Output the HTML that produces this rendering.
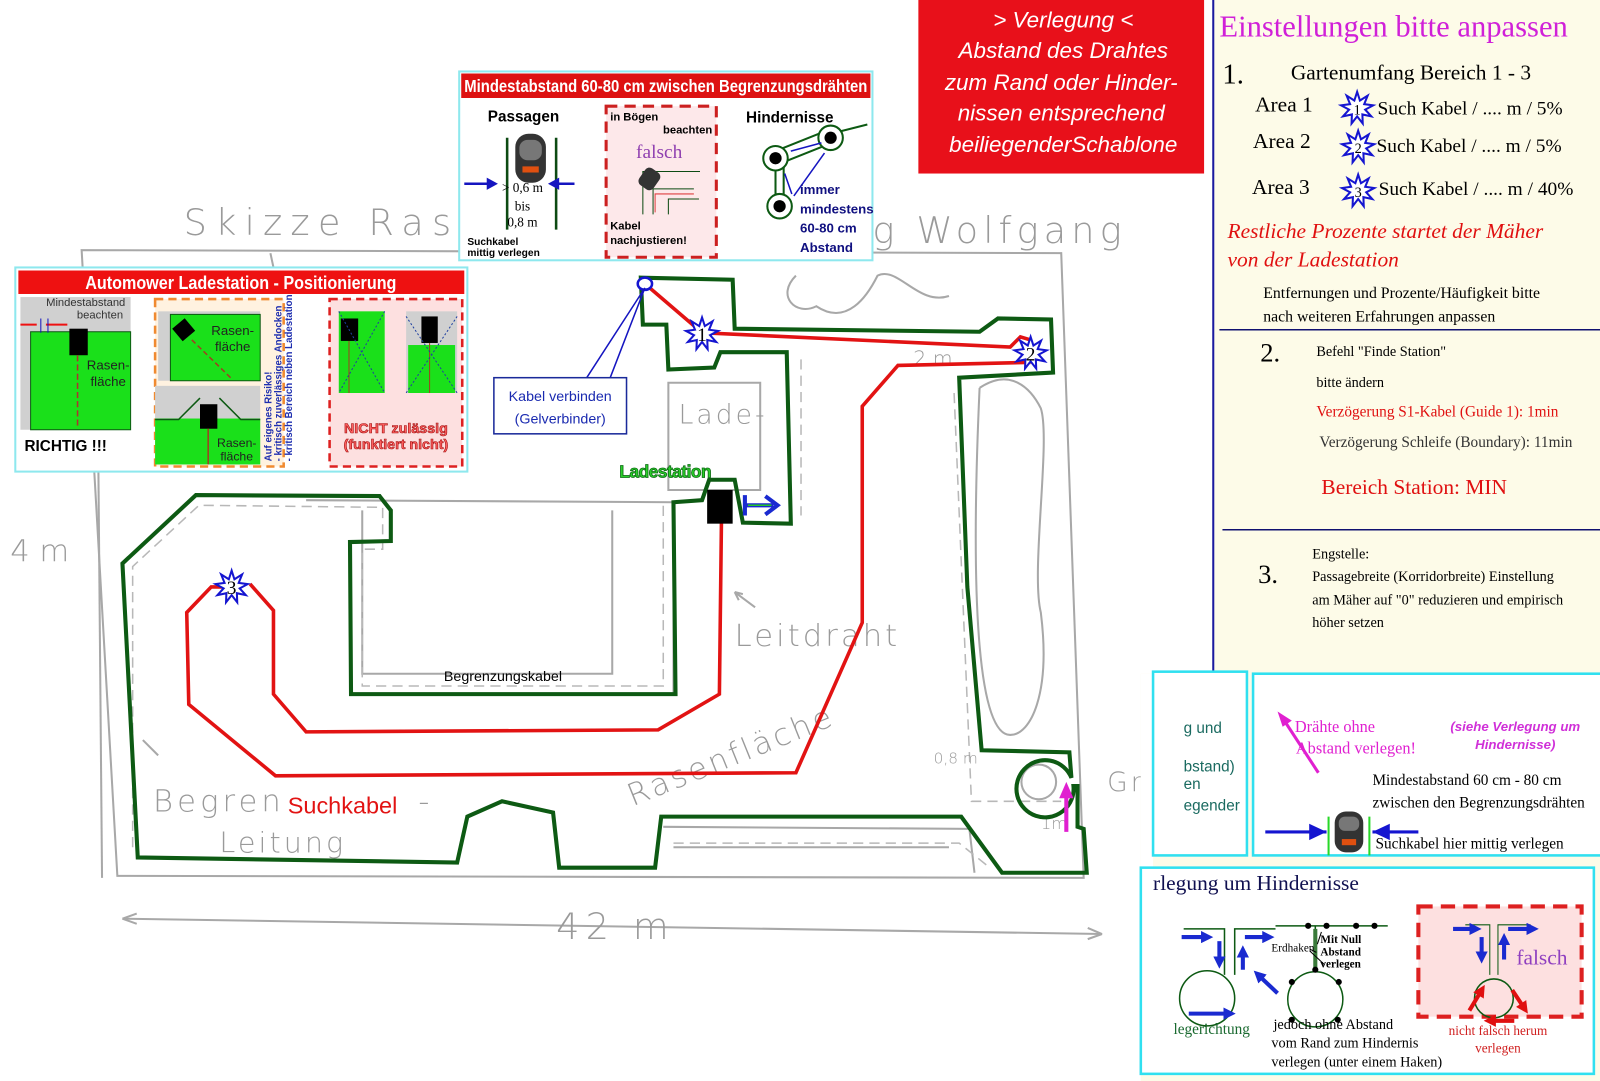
<!DOCTYPE html>
<html><head><meta charset="utf-8"><style>
html,body{margin:0;padding:0;background:#fff}
svg{display:block}
.sk{font-family:"DejaVu Sans","Liberation Sans",sans-serif;fill:#9a9a9a;font-weight:200}
.ser{font-family:"Liberation Serif",serif}
.san{font-family:"Liberation Sans",sans-serif}
.nar{font-family:"Liberation Sans Narrow","Liberation Sans",sans-serif}
</style></head><body>
<svg width="1600" height="1081" viewBox="0 0 1568 1059" preserveAspectRatio="none" xmlns="http://www.w3.org/2000/svg">
<defs>
<polygon id="st" points="0,-16 2.74,-7.52 10.28,-12.26 6.93,-4 15.76,-2.78 7.88,1.39 13.86,8 5.14,6.13 5.47,15.04 0,8 -5.47,15.04 -5.14,6.13 -13.86,8 -7.88,1.39 -15.76,-2.78 -6.93,-4 -10.28,-12.26 -2.74,-7.52" fill="#fff" stroke="#1515d0" stroke-width="2"/>
<g id="mower"><rect x="-15" y="-24" width="30" height="48" rx="13" fill="#333"/><rect x="-11" y="-18" width="22" height="20" rx="8" fill="#777"/><rect x="-8" y="8" width="16" height="6" fill="#e05010"/></g>
<marker id="ab" markerWidth="3" markerHeight="3" refX="1.5" refY="1.5" orient="auto"><path d="M0,0 L3,1.5 L0,3Z" fill="#1a2ad0"/></marker>
<marker id="ar" markerWidth="3" markerHeight="3" refX="1.5" refY="1.5" orient="auto"><path d="M0,0 L3,1.5 L0,3Z" fill="#e01010"/></marker>
</defs>

<!-- sketch background -->
<g stroke="#a8a8a8" stroke-width="2" fill="none">
<path d="M80,245 L1040,248 L1062,860 L115,858 Z"/>
<path d="M95,300 L100,860"/>
<path d="M265,248 L268,262"/>
<path d="M300,490 L660,492 L660,680 L345,680"/>
<path d="M355,500 L355,660 L600,660 L600,500"/>
<path d="M655,375 L745,375 L745,480 L655,480 Z"/>
<path d="M650,810 L950,812 L955,855"/>
<path d="M660,830 L930,830"/>
<path d="M120,900 L1080,915"/>
<path d="M960,380 C990,360 1010,380 1020,400 C1030,430 1010,560 1020,600 C1030,680 1010,720 990,720 C960,720 950,600 960,380"/>
<circle cx="1018" cy="766" r="17"/>
<path d="M780,270 C760,290 780,310 800,300 C830,320 850,290 860,270 C880,260 900,300 930,290"/>
<path d="M120,900 l14,-5 M1080,915 l-14,-6 M1080,915 l-14,5 M120,900 l14,5"/>
<path d="M740,595 l-20,-15 M720,580 l4,8 M720,580 l8,2"/>
<path d="M155,740 l-15,-15"/>
</g>
<g stroke="#b8b8b8" stroke-width="1.5" fill="none" stroke-dasharray="10,6">
<path d="M130,830 L130,555 L195,495 L375,497 L375,538 L355,538 L355,672 L650,672 L650,490"/>
<path d="M935,385 L952,785 L1040,785"/>
<path d="M660,826 L940,826 L970,850"/>
<path d="M785,352 L785,505"/>
</g>
<text class="sk" x="180" y="230" font-size="36" letter-spacing="8">Skizze Ras</text>
<text class="sk" x="855" y="238" font-size="36" letter-spacing="5">g Wolfgang</text>
<text class="sk" x="545" y="920" font-size="36" letter-spacing="6">42 m</text>
<text class="sk" x="10" y="550" font-size="30">4 m</text>
<text class="sk" x="720" y="633" font-size="30" letter-spacing="3">Leitdraht</text>
<text class="sk" x="665" y="415" font-size="26" letter-spacing="3">Lade-</text>
<text class="sk" x="150" y="795" font-size="30" letter-spacing="4">Begren</text>
<text class="sk" x="215" y="835" font-size="28" letter-spacing="3">Leitung</text>
<text class="sk" x="410" y="795" font-size="30">-</text>
<text class="sk" x="620" y="790" font-size="30" letter-spacing="3" transform="rotate(-22 620 790)">Rasenfläche</text>
<text class="sk" x="1085" y="775" font-size="26" letter-spacing="3">Grill</text>
<text class="sk" x="915" y="748" font-size="15">0,8 m</text>
<text class="sk" x="895" y="358" font-size="20">2 m</text>
<text class="sk" x="1020" y="812" font-size="16">1m</text>

<!-- boundary -->
<path d="M628,272 L718,274 L720,322 L960,325 L978,312 L1030,313 L1032,365 L940,370 L948,575 L962,735 L1048,737 L1050,762 A28,28 0 1 0 1052,770 L1056,770 L1056,810 L1062,812 L1065,855 L982,855 L942,800 L648,800 L642,850 L548,850 L542,796 L492,785 L458,800 L448,845 L135,840 L120,552 L192,485 L372,486 L383,500 L383,530 L343,531 L344,680 L662,680 L660,492 L688,490 L695,470 L720,470 L728,512 L775,513 L771,345 L706,345 L700,360 L655,362 L653,318 L630,318 Z" fill="none" stroke="#0d5a13" stroke-width="4" stroke-linejoin="miter"/>
<!-- search cable -->
<g fill="none" stroke="#e21313" stroke-width="3.5">
<path d="M632,278 L688,326 L990,340 L1000,330 L1010,333"/>
<path d="M1010,355 L880,358 L845,398 L845,610 L780,757 L270,760 L185,690 L183,600 L207,575 L227,575"/>
<path d="M707,512 L705,680 L645,715 L300,717 L268,680 L268,598 L245,572"/>
</g>
<rect x="693" y="480" width="25" height="33" fill="#000"/>
<path d="M730,485 L730,505 M730,495 L758,495 M750,486 L762,495 L750,504" stroke="#1a2ad0" stroke-width="4" fill="none"/>
<path d="M733,495 L756,495" stroke="#28c828" stroke-width="1.5"/>
<use href="#st" x="688" y="327"/>
<use href="#st" x="1010" y="346"/>
<use href="#st" x="227" y="575"/>
<text class="ser" x="688" y="334" font-size="19" text-anchor="middle">1</text>
<text class="ser" x="1010" y="353" font-size="19" text-anchor="middle">2</text>
<text class="ser" x="227" y="582" font-size="19" text-anchor="middle">3</text>
<path d="M1045,815 L1045,772" stroke="#e020d0" stroke-width="4"/>
<path d="M1038,782 L1045,766 L1052,782 Z" fill="#e020d0"/>
<ellipse cx="632" cy="278" rx="7" ry="6" fill="#fff" stroke="#1515d0" stroke-width="2.5"/>
<path d="M632,282 L575,370 M632,282 L598,370" stroke="#1515c0" stroke-width="1.5"/>
<rect x="484" y="370" width="130" height="55" fill="#fff" stroke="#1a2a9a" stroke-width="1.5"/>
<text class="san" x="549" y="393" font-size="14" fill="#1a2ab0" text-anchor="middle">Kabel verbinden</text>
<text class="san" x="549" y="415" font-size="14" fill="#1a2ab0" text-anchor="middle">(Gelverbinder)</text>
<text class="san" x="607" y="468" font-size="17" font-weight="bold" fill="#2ad02a" stroke="#0d6a13" stroke-width="0.8" letter-spacing="-0.5">Ladestation</text>
<text class="nar" x="435" y="667" font-size="14">Begrenzungskabel</text>
<text class="nar" x="282" y="797" font-size="23" fill="#e21313">Suchkabel</text>

<!-- left panel -->
<rect x="15" y="262" width="443" height="200" fill="#fff" stroke="#8ee8ee" stroke-width="2"/>
<rect x="18" y="265" width="437" height="23" fill="#ee1111"/>
<text class="nar" x="236" y="283" font-size="18" font-weight="bold" fill="#fff" text-anchor="middle" textLength="305" lengthAdjust="spacingAndGlyphs">Automower Ladestation - Positionierung</text>
<rect x="20" y="291" width="108" height="130" fill="#d0d0d0"/>
<rect x="30" y="325" width="98" height="96" fill="#1ae01a" stroke="#0d5a13" stroke-width="1"/>
<rect x="68" y="322" width="18" height="26" fill="#000"/>
<path d="M76,348 L76,420" stroke="#b03030" stroke-dasharray="6,3" stroke-width="1.5"/>
<text class="san" x="84" y="300" font-size="11" fill="#333" text-anchor="middle">Mindestabstand</text>
<text class="san" x="98" y="312" font-size="11" fill="#333" text-anchor="middle">beachten</text>
<path d="M20,318 L36,318 M45,318 L66,318" stroke="#ee1111" stroke-width="2"/>
<path d="M40,312 L40,326 M47,312 L47,326" stroke="#1515c0"/>
<text class="san" x="106" y="362" font-size="13" fill="#222" text-anchor="middle">Rasen-</text>
<text class="san" x="106" y="378" font-size="13" fill="#222" text-anchor="middle">fläche</text>
<text class="san" x="24" y="442" font-size="15" font-weight="bold">RICHTIG !!!</text>
<rect x="152" y="293" width="126" height="164" fill="#fff2e0" stroke="#f08a30" stroke-width="2.5" stroke-dasharray="8,5"/>
<rect x="155" y="305" width="100" height="68" fill="#d0d0d0"/>
<rect x="167" y="308" width="88" height="65" fill="#1ae01a" stroke="#0d5a13"/>
<rect x="172" y="315" width="16" height="16" fill="#000" transform="rotate(-40 180 323)"/>
<path d="M188,333 L228,372" stroke="#a04020" stroke-width="1.5" stroke-dasharray="5,3"/>
<text class="san" x="228" y="328" font-size="13" fill="#222" text-anchor="middle">Rasen-</text>
<text class="san" x="228" y="344" font-size="13" fill="#222" text-anchor="middle">fläche</text>
<rect x="152" y="378" width="103" height="77" fill="#d0d0d0"/>
<rect x="152" y="410" width="103" height="45" fill="#1ae01a"/>
<path d="M152,411 L175,411 L196,390 M215,390 L236,411 L255,411" stroke="#0d5a13" stroke-width="1.5" fill="none"/>
<rect x="196" y="396" width="17" height="24" fill="#000"/>
<path d="M204,420 L204,455" stroke="#a04020" stroke-width="1.5"/>
<text class="san" x="232" y="438" font-size="12" fill="#222" text-anchor="middle">Rasen-</text>
<text class="san" x="232" y="451" font-size="12" fill="#222" text-anchor="middle">fläche</text>
<g transform="translate(277,452) rotate(-90)" class="nar" font-size="9.5" font-weight="bold" fill="#2030b0">
<text x="0" y="-11">Auf eigenes Risiko!</text><text x="0" y="-1">- kritisch zuverlässiges Andocken</text><text x="0" y="9">- kritisch Bereich neben Ladestation</text></g>
<rect x="323" y="293" width="130" height="164" fill="#fde0e0" stroke="#dd2020" stroke-width="2.5" stroke-dasharray="8,5"/>
<rect x="332" y="305" width="45" height="80" fill="#1ae01a"/><rect x="334" y="312" width="17" height="22" fill="#000"/>
<path d="M342,334 L342,385" stroke="#a04020"/>
<path d="M332,305 L377,385 M377,305 L332,385" stroke="#2040a0" stroke-dasharray="2,2"/>
<rect x="398" y="305" width="50" height="80" fill="#d0d0d0"/><rect x="400" y="338" width="46" height="47" fill="#1ae01a"/>
<rect x="413" y="310" width="16" height="26" fill="#000"/><path d="M421,336 L421,385" stroke="#a04020"/>
<path d="M398,310 L448,385 M448,310 L398,385" stroke="#2040a0" stroke-dasharray="2,2"/>
<text class="san" x="388" y="424" font-size="14" font-weight="bold" fill="#ff6060" stroke="#a01010" stroke-width="0.6" text-anchor="middle">NICHT zulässig</text>
<text class="san" x="388" y="440" font-size="14" font-weight="bold" fill="#ff6060" stroke="#a01010" stroke-width="0.6" text-anchor="middle">(funktiert nicht)</text>

<!-- top center panel -->
<rect x="450" y="70" width="405" height="185" fill="#fff" stroke="#8ee8ee" stroke-width="2"/>
<rect x="452" y="72" width="401" height="24" fill="#dd1111"/>
<text class="nar" x="455" y="90" font-size="17" font-weight="bold" fill="#fff" textLength="395" lengthAdjust="spacingAndGlyphs">Mindestabstand 60-80 cm zwischen Begrenzungsdrähten</text>
<text class="san" x="513" y="119" font-size="15" font-weight="bold" text-anchor="middle">Passagen</text>
<path d="M497,135 L497,225 M545,135 L545,225" stroke="#0d4a13" stroke-width="2.5"/>
<use href="#mower" x="520" y="155"/>
<path d="M455,180 L480,180 M540,180 L563,180" stroke="#1515c0" stroke-width="2.5"/>
<path d="M477,174 L488,180 L477,186 Z M548,174 L537,180 L548,186 Z" fill="#1515c0"/>
<text class="ser" x="512" y="188" font-size="13" text-anchor="middle">&gt; 0,6 m</text>
<text class="ser" x="512" y="206" font-size="13" text-anchor="middle">bis</text>
<text class="ser" x="512" y="222" font-size="13" text-anchor="middle">0,8 m</text>
<text class="san" x="458" y="240" font-size="10" font-weight="bold">Suchkabel</text>
<text class="san" x="458" y="251" font-size="10" font-weight="bold">mittig verlegen</text>
<rect x="594" y="104" width="108" height="148" fill="#fde8ea" stroke="#cc2020" stroke-width="3" stroke-dasharray="11,7"/>
<text class="san" x="598" y="118" font-size="11" font-weight="bold">in Bögen</text>
<text class="san" x="698" y="131" font-size="11" font-weight="bold" text-anchor="end">beachten</text>
<text class="ser" x="646" y="155" font-size="19" fill="#9040b0" text-anchor="middle">falsch</text>
<path d="M630,210 L630,168 L686,168 M640,210 L640,185 L680,185 M655,210 L655,195 L685,195" stroke="#0d4a13" fill="none"/>
<path d="M642,208 L642,190 L680,190" stroke="#e04040" fill="none"/>
<rect x="628" y="165" width="17" height="20" rx="5" fill="#333" transform="rotate(35 636 175)"/>
<text class="san" x="598" y="225" font-size="11" font-weight="bold">Kabel</text>
<text class="san" x="598" y="239" font-size="11" font-weight="bold">nachjustieren!</text>
<text class="san" x="774" y="120" font-size="15" font-weight="bold" text-anchor="middle">Hindernisse</text>
<g stroke="#0d5a13" stroke-width="2" fill="none"><path d="M760,148 L810,128 M765,160 L815,140 M760,155 L760,195 M768,158 L768,195 M818,130 L850,122"/></g>
<circle cx="760" cy="155" r="12" fill="#fff" stroke="#0d5a13" stroke-width="2"/><circle cx="760" cy="155" r="6" fill="#000"/>
<circle cx="814" cy="135" r="12" fill="#fff" stroke="#0d5a13" stroke-width="2"/><circle cx="814" cy="135" r="6" fill="#000"/>
<circle cx="764" cy="202" r="12" fill="#fff" stroke="#0d5a13" stroke-width="2"/><circle cx="764" cy="202" r="6" fill="#000"/>
<path d="M775,148 L805,140 M769,170 L776,190 M778,192 L808,150" stroke="#1515c0" stroke-width="1.5"/>
<text class="nar" x="784" y="190" font-size="13" font-weight="bold" fill="#101080">immer</text>
<text class="nar" x="784" y="209" font-size="13" font-weight="bold" fill="#101080">mindestens</text>
<text class="nar" x="784" y="228" font-size="13" font-weight="bold" fill="#101080">60-80 cm</text>
<text class="nar" x="784" y="247" font-size="13" font-weight="bold" fill="#101080">Abstand</text>

<!-- red box top right -->
<rect x="900" y="0" width="280" height="170" fill="#e8101a"/>
<g class="san" font-size="22" font-style="italic" fill="#fff" text-anchor="middle">
<text x="1042" y="27">&gt; Verlegung &lt;</text>
<text x="1042" y="57">Abstand des Drahtes</text>
<text x="1040" y="88">zum Rand oder Hinder-</text>
<text x="1040" y="118">nissen entsprechend</text>
<text x="1042" y="149">beiliegenderSchablone</text></g>

<!-- right panel -->
<rect x="1188" y="0" width="412" height="660" fill="#fdfbe8"/>
<path d="M1189,0 L1189,660" stroke="#1a1aa0" stroke-width="2"/>
<text class="ser" x="1195" y="36" font-size="30" fill="#d020d8">Einstellungen bitte anpassen</text>
<text class="ser" x="1198" y="82" font-size="28">1.</text>
<text class="ser" x="1265" y="78" font-size="21">Gartenumfang Bereich 1 - 3</text>
<g class="ser" font-size="21"><text x="1230" y="109">Area 1</text><text x="1228" y="145">Area 2</text><text x="1227" y="190">Area 3</text></g>
<use href="#st" x="1330" y="106"/><use href="#st" x="1331" y="144"/><use href="#st" x="1331" y="187"/>
<g class="ser" font-size="14" text-anchor="middle"><text x="1330" y="112">1</text><text x="1331" y="150">2</text><text x="1331" y="193">3</text></g>
<g class="ser" font-size="19"><text x="1350" y="112">Such Kabel / .... m / 5%</text><text x="1349" y="149">Such Kabel / .... m / 5%</text><text x="1351" y="191">Such Kabel / .... m / 40%</text></g>
<text class="ser" x="1203" y="233" font-size="21" font-style="italic" fill="#e01010">Restliche Prozente  startet der Mäher</text>
<text class="ser" x="1203" y="261" font-size="21" font-style="italic" fill="#e01010">von der Ladestation</text>
<text class="ser" x="1238" y="292" font-size="15.5">Entfernungen und Prozente/Häufigkeit bitte</text>
<text class="ser" x="1238" y="315" font-size="15.5">nach weiteren Erfahrungen anpassen</text>
<path d="M1195,323 L1600,323 M1198,519 L1600,519" stroke="#101070" stroke-width="1.5"/>
<text class="ser" x="1235" y="354" font-size="26">2.</text>
<text class="ser" x="1290" y="349" font-size="14">Befehl "Finde Station"</text>
<text class="ser" x="1290" y="379" font-size="14">bitte ändern</text>
<text class="ser" x="1290" y="408" font-size="15" fill="#e01010">Verzögerung S1-Kabel (Guide 1): 1min</text>
<text class="ser" x="1293" y="438" font-size="15" fill="#333">Verzögerung Schleife (Boundary): 11min</text>
<text class="ser" x="1295" y="484" font-size="21" fill="#e01010">Bereich Station: MIN</text>
<text class="ser" x="1286" y="547" font-size="14">Engstelle:</text>
<text class="ser" x="1233" y="571" font-size="26">3.</text>
<text class="ser" x="1286" y="569" font-size="14">Passagebreite (Korridorbreite) Einstellung</text>
<text class="ser" x="1286" y="592" font-size="14">am Mäher auf "0" reduzieren und empirisch</text>
<text class="ser" x="1286" y="614" font-size="14">höher setzen</text>

<!-- bottom right -->
<rect x="1118" y="660" width="482" height="421" fill="#fdfbe8"/>
<rect x="1118" y="660" width="12" height="190" fill="#fff"/>
<rect x="1130" y="658" width="92" height="180" fill="#fff" stroke="#30e0f0" stroke-width="2.5"/>
<g class="san" font-size="15" fill="#1a6a60"><text x="1160" y="718">g und</text><text x="1160" y="756">bstand)</text><text x="1160" y="773">en</text><text x="1160" y="794">egender</text></g>
<rect x="1228" y="660" width="372" height="178" fill="#fff" stroke="#30e0f0" stroke-width="2.5"/>
<path d="M1292,757 L1258,705" stroke="#e020d0" stroke-width="3"/><path d="M1252,697 L1266,706 L1257,712 Z" fill="#e020d0"/>
<text class="ser" x="1269" y="717" font-size="16" fill="#e020d0">Drähte ohne</text>
<text class="ser" x="1270" y="738" font-size="16" fill="#e020d0">Abstand verlegen!</text>
<text class="san" x="1485" y="716" font-size="13" font-style="italic" font-weight="bold" fill="#d030d8" text-anchor="middle">(siehe Verlegung um</text>
<text class="san" x="1485" y="734" font-size="13" font-style="italic" font-weight="bold" fill="#d030d8" text-anchor="middle">Hindernisse)</text>
<text class="ser" x="1345" y="769" font-size="15">Mindestabstand 60 cm - 80 cm</text>
<text class="ser" x="1345" y="791" font-size="15">zwischen den Begrenzungsdrähten</text>
<text class="ser" x="1348" y="831" font-size="15">Suchkabel hier mittig verlegen</text>
<path d="M1240,815 L1300,815 M1345,815 L1390,815" stroke="#1515d0" stroke-width="3"/>
<path d="M1283,807 L1300,815 L1283,823 Z M1362,807 L1345,815 L1362,823 Z" fill="#1515d0"/>
<path d="M1302,800 L1302,838 M1342,800 L1342,838" stroke="#28d828" stroke-width="2"/>
<rect x="1308" y="795" width="28" height="40" rx="11" fill="#333"/><rect x="1312" y="800" width="20" height="14" rx="6" fill="#777"/><rect x="1315" y="822" width="14" height="6" fill="#e05010"/>
<rect x="1118" y="850" width="444" height="202" fill="#fff" stroke="#30e0f0" stroke-width="2.5"/>
<text class="ser" x="1130" y="872" font-size="21" fill="#101050">rlegung um Hindernisse</text>
<g stroke="#0d5a13" stroke-width="1.5" fill="none">
<path d="M1160,910 L1200,910 L1200,955 M1250,910 L1210,910 L1210,955"/>
<circle cx="1183" cy="978" r="27"/>
<path d="M1250,907 L1360,907 M1289,907 L1289,950"/><circle cx="1289" cy="979" r="27"/>
</g>
<path d="M1289,910 L1289,950" stroke="#3a7a3a" stroke-width="4"/>
<g fill="#000"><circle cx="1282" cy="907" r="3"/><circle cx="1300" cy="907" r="3"/><circle cx="1329" cy="907" r="3"/><circle cx="1347" cy="907" r="3"/><circle cx="1266" cy="962" r="3"/><circle cx="1312" cy="962" r="3"/><circle cx="1266" cy="999" r="3"/><circle cx="1311" cy="999" r="3"/><circle cx="1289" cy="950" r="3"/></g>
<text class="ser" x="1246" y="932" font-size="11">Erdhaken</text>
<g class="ser" font-size="11" font-weight="bold"><text x="1294" y="924">Mit Null</text><text x="1294" y="936">Abstand</text><text x="1294" y="948">verlegen</text></g>
<path d="M1295,913 L1291,925 M1284,930 L1290,933 M1284,932 L1298,945" stroke="#000"/>
<g stroke="#1a2ad0" stroke-width="4" fill="none">
<path d="M1158,918 L1183,918" marker-end="url(#ab)"/>
<path d="M1195,922 L1195,943" marker-end="url(#ab)"/>
<path d="M1218,950 L1218,932" marker-end="url(#ab)"/>
<path d="M1220,918 L1243,918" marker-end="url(#ab)"/>
<path d="M1252,973 L1233,955" marker-end="url(#ab)"/>
<path d="M1165,993 L1205,993" marker-end="url(#ab)"/>
</g>
<text class="ser" x="1150" y="1013" font-size="15" fill="#1a6a30">legerichtung</text>
<text class="ser" x="1248" y="1008" font-size="14">jedoch ohne Abstand</text>
<text class="ser" x="1246" y="1026" font-size="14">vom Rand zum Hindernis</text>
<text class="ser" x="1246" y="1045" font-size="14">verlegen (unter einem Haken)</text>
<rect x="1390" y="888" width="160" height="108" fill="#fde0e0" stroke="#dd2020" stroke-width="4" stroke-dasharray="14,8"/>
<path d="M1436,906 L1460,906 L1460,955 M1500,906 L1468,906 L1468,955" stroke="#0d5a13" fill="none"/>
<circle cx="1464" cy="978" r="19" fill="none" stroke="#0d5a13" stroke-width="1.5"/>
<g stroke="#1a2ad0" stroke-width="4" fill="none">
<path d="M1424,910 L1446,910" marker-end="url(#ab)"/>
<path d="M1452,918 L1452,938" marker-end="url(#ab)"/>
<path d="M1474,940 L1474,920" marker-end="url(#ab)"/>
<path d="M1478,910 L1502,910" marker-end="url(#ab)"/>
</g>
<g stroke="#e01010" stroke-width="4" fill="none">
<path d="M1440,990 L1452,970" marker-end="url(#ar)"/>
<path d="M1482,970 L1494,988" marker-end="url(#ar)"/>
<path d="M1484,1000 L1460,1000" marker-end="url(#ar)"/>
</g>
<text class="ser" x="1486" y="945" font-size="21" fill="#9040c0">falsch</text>
<text class="ser" x="1468" y="1014" font-size="13" fill="#d02020" text-anchor="middle">nicht falsch herum</text>
<text class="ser" x="1468" y="1031" font-size="13" fill="#d02020" text-anchor="middle">verlegen</text>
</svg>
</body></html>
